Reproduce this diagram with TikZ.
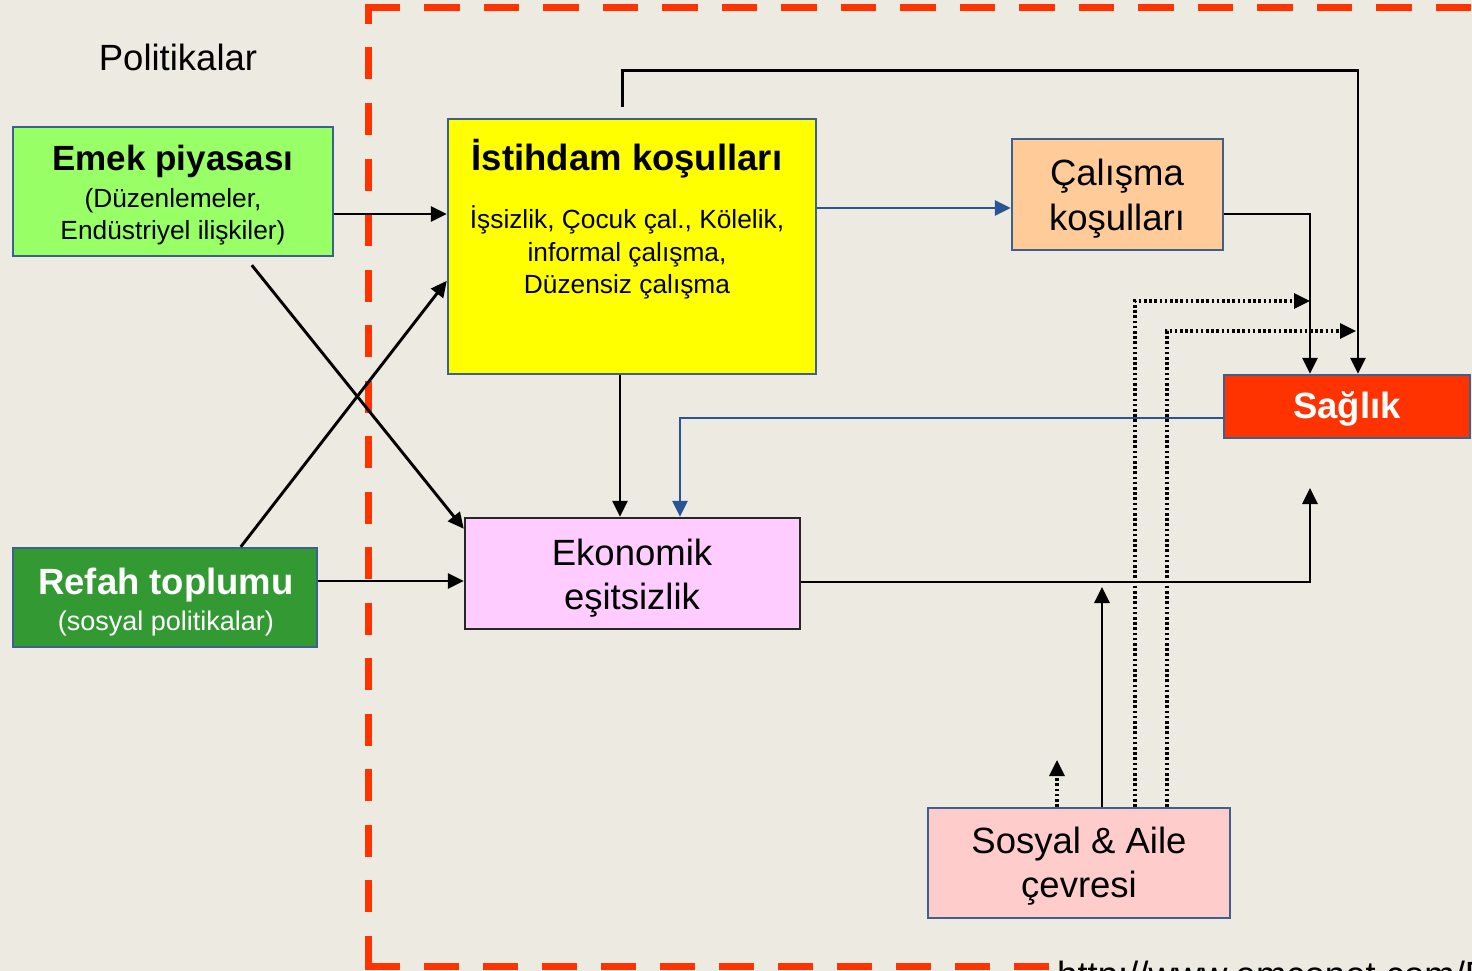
\documentclass[tikz,border=0pt]{standalone}
\usepackage{fontspec}
\setmainfont{Liberation Sans}
\usetikzlibrary{arrows.meta,calc}
\definecolor{bgc}{RGB}{237,234,225}
\definecolor{redd}{RGB}{255,51,0}
\definecolor{boxblue}{RGB}{62,96,140}
\definecolor{arrblue}{RGB}{40,85,150}
\definecolor{emekc}{RGB}{153,255,102}
\definecolor{refahc}{RGB}{51,153,51}
\definecolor{yelc}{RGB}{255,255,0}
\definecolor{peachc}{RGB}{255,204,153}
\definecolor{ekonc}{RGB}{255,204,255}
\definecolor{sosc}{RGB}{255,204,204}
\tikzset{
  box/.style={draw=boxblue, line width=2.4pt, inner sep=0pt},
  big/.style={anchor=base, inner sep=0pt, font=\fontsize{36.5}{44}\selectfont},
  bigb/.style={anchor=base, inner sep=0pt, font=\fontsize{36.5}{44}\selectfont\bfseries},
  small/.style={anchor=base, inner sep=0pt, font=\fontsize{26.3}{32}\selectfont},
  arr/.style={line width=2.9pt, -{Triangle[length=16pt,width=15pt]}},
  barr/.style={line width=2.6pt, draw=arrblue, -{Triangle[length=16pt,width=15pt]}},
  darr/.style={line width=3.2pt, dash pattern=on 2.6pt off 2.6pt, -{Triangle[length=16pt,width=15pt]}},
  reddash/.style={draw=redd, line width=7pt}
}
\begin{document}
\begin{tikzpicture}[x=1pt,y=-1pt]
\useasboundingbox (0,0) rectangle (1472,971);
\fill[bgc] (0,0) rectangle (1472,971);
% red dashed frame
\draw[reddash, dash pattern=on 35.5pt off 24pt] (364.5,8) -- (1490,8);
\draw[reddash, dash pattern=on 32pt off 23.5pt, dash phase=16pt] (368,8) -- (368,966);
\draw[reddash, dash pattern=on 35.5pt off 23.5pt] (364.5,966) -- (1490,966);

% boxes
\node[box, fill=emekc, minimum width=320pt, minimum height=129pt] (emek) at (173,191.5) {};
\node[box, fill=yelc, minimum width=368pt, minimum height=255pt] (istih) at (632,246.5) {};
\node[box, fill=peachc, minimum width=211pt, minimum height=111pt] (calis) at (1117.5,194.5) {};
\node[box, fill=redd, minimum width=246pt, minimum height=63pt] (sagl) at (1347,406.5) {};
\node[box, draw=black!85, fill=ekonc, minimum width=335pt, minimum height=111pt] (ekon) at (632.5,573.5) {};
\node[box, fill=refahc, minimum width=304pt, minimum height=99pt] (refah) at (165,597.5) {};
\node[box, fill=sosc, minimum width=302pt, minimum height=110pt] (sos) at (1079,863) {};

% texts
\node[big] (politxt) at (178,71) {Politikalar};
\node[anchor=base, inner sep=0pt, font=\fontsize{35}{42}\selectfont\bfseries] (emek1) at (173,171) {Emek piyasası};
\node[small] (emek2) at (173,207) {(Düzenlemeler,};
\node[small] (emek3) at (173,239) {Endüstriyel ilişkiler)};
\node[bigb] (istih1) at (627,170) {İstihdam koşulları};
\node[small] (istih2) at (627,228) {İşsizlik, Çocuk çal., Kölelik,};
\node[small] (istih3) at (627,261) {informal çalışma,};
\node[small] (istih4) at (627,293) {Düzensiz çalışma};
\node[big] (calis1) at (1117,185) {Çalışma};
\node[big] (calis2) at (1117,230) {koşulları};
\node[bigb, text=white] (sagl1) at (1347,418) {Sağlık};
\node[big] (ekon1) at (632,565) {Ekonomik};
\node[big] (ekon2) at (632,609) {eşitsizlik};
\node[bigb, text=white] (refah1) at (166,594) {Refah toplumu};
\node[small, text=white, font=\fontsize{27}{32}\selectfont] (refah2) at (166,630) {(sosyal politikalar)};
\node[big] (sos1) at (1079,853) {Sosyal \& Aile};
\node[big] (sos2) at (1079,897) {çevresi};
\node[big, anchor=base west, fill=bgc, inner sep=2pt] (url) at (1055,987) {http://www.emconet.com/EA};

% connectors
\draw[arr] (emek.east |- 0,214) -- (istih.west |- 0,214);
\draw[arr] ([shift={(240,8)}]emek.south west) -- ([shift={(0,12)}]ekon.north west);
\draw[arr] ([shift={(229,0)}]refah.north west) -- ([shift={(0,163)}]istih.north west);
\draw[arr] (refah.east |- 0,581) -- (ekon.west |- 0,581);
\draw[arr] ([shift={(176,-11)}]istih.north west) -- ++(0,-36) -| ([xshift=11pt]sagl.north);
\draw[barr] (istih.east |- 0,208) -- (calis.west |- 0,208);
\draw[arr] (calis.east |- 0,214) -| ([xshift=-37pt]sagl.north);
\draw[arr] (istih.south -| 620,0) -- (ekon.north -| 620,0);
\draw[barr] (sagl.west |- 0,418) -| (ekon.north -| 680,0);
\coordinate (ekfree) at (1310,488);
\draw[arr] (ekon.east |- 0,582) -| (ekfree);
\coordinate (sosup) at (1102,587);
\draw[arr] (sos.north -| 1102,0) -- (sosup);
\coordinate (dotup) at (1057,760);
\draw[darr] (sos.north -| 1057,0) -- (dotup);
\coordinate (dot1) at (1310,301);
\draw[darr] (sos.north -| 1135,0) |- (dot1);
\coordinate (dot2) at (1356,331);
\draw[darr] (sos.north -| 1167,0) |- (dot2);
\end{tikzpicture}
\end{document}
